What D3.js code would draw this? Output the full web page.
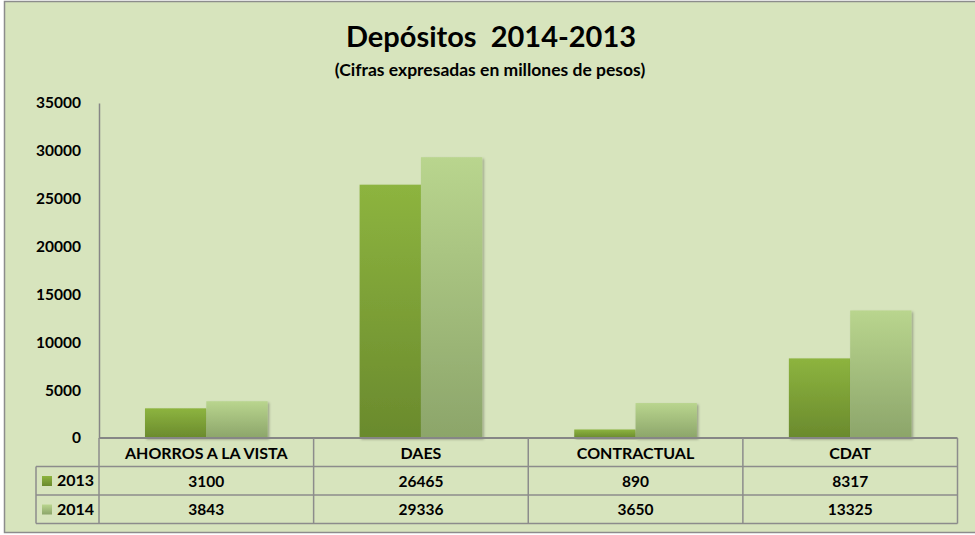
<!DOCTYPE html>
<html>
<head>
<meta charset="utf-8">
<script src="https://cdn.jsdelivr.net/npm/d3@7"></script>
<style>
  body { margin: 0; background: #fff; }
  svg text { font-family: Lato, "Open Sans", sans-serif; font-weight: bold; fill: #000; }
</style>
</head>
<body>
<div id="chart"></div>
<script>
// data
const categories = ["AHORROS A LA VISTA", "DAES", "CONTRACTUAL", "CDAT"];
const seriesNames = ["2013", "2014"];
const values2013 = [3100, 26465, 890, 8317];
const values2014 = [3843, 29336, 3650, 13325];
const yTicks = [0, 5000, 10000, 15000, 20000, 25000, 30000, 35000];

const seriesValues = { "2013": values2013, "2014": values2014 };

const width = 975, height = 535;
const margin = {top: 103, right: 17.5, bottom: 97, left: 99};
const rowH = 28.5;

const svg = d3.select("#chart")
    .append("svg")
    .attr("width", width)
    .attr("height", height);

const defs = svg.append("defs");

// gradients for the two series
const grads = {
    "2013": ["#8db43f", "#6a8a2d"],
    "2014": ["#b9d58e", "#8ca56a"]
};
seriesNames.forEach(s => {
    const g = defs.append("linearGradient")
        .attr("id", "g" + s)
        .attr("x1", 0).attr("y1", 0).attr("x2", 0).attr("y2", 1);
    g.append("stop").attr("offset", "0%").attr("stop-color", grads[s][0]);
    g.append("stop").attr("offset", "100%").attr("stop-color", grads[s][1]);
});

const shadow = defs.append("filter").attr("id", "shadow")
    .attr("x", "-10%").attr("y", "-10%").attr("width", "130%").attr("height", "130%");
shadow.append("feDropShadow")
    .attr("dx", 1.5).attr("dy", 1.5).attr("stdDeviation", 1.2)
    .attr("flood-color", "#000").attr("flood-opacity", 0.3);

// background + border
svg.append("rect")
    .attr("x", 4.5).attr("y", 1.5)
    .attr("width", width + 5).attr("height", 531)
    .attr("fill", "#d7e4bd")
    .attr("stroke", "#8c8c8c")
    .attr("stroke-width", 1.5);

// title
svg.append("text")
    .attr("x", 491).attr("y", 47)
    .attr("text-anchor", "middle")
    .style("font-size", "29px")
    .style("white-space", "pre")
    .text("Depósitos  2014-2013");

svg.append("text")
    .attr("x", 490).attr("y", 76)
    .attr("text-anchor", "middle")
    .style("font-size", "17.5px")
    .text("(Cifras expresadas en millones de pesos)");

// scales
const x0 = d3.scaleBand()
    .domain(categories)
    .range([margin.left, width - margin.right])
    .padding(0);

const x1 = d3.scaleBand()
    .domain(seriesNames)
    .range([0, x0.bandwidth()])
    .paddingInner(0)
    .paddingOuter(0.75);

const y = d3.scaleLinear()
    .domain([0, 35000])
    .range([height - margin.bottom, margin.top]);

// y axis
const yAxis = svg.append("g")
    .attr("transform", "translate(" + margin.left + ",0)")
    .call(d3.axisLeft(y).tickValues(yTicks).tickFormat(d3.format("d")).tickSize(0).tickPadding(18));
yAxis.select(".domain").attr("stroke", "#868686").attr("stroke-width", 1.5);
yAxis.selectAll("text")
    .style("font-size", "15.5px")
    .attr("font-family", null);

// bars
const groups = svg.selectAll("g.cat")
    .data(categories)
    .enter()
    .append("g")
    .attr("class", "cat")
    .attr("transform", d => "translate(" + x0(d) + ",0)");

groups.selectAll("rect")
    .data((d, i) => seriesNames.map(s => ({series: s, value: seriesValues[s][i]})))
    .enter()
    .append("rect")
    .attr("x", d => x1(d.series))
    .attr("y", d => y(d.value))
    .attr("width", x1.bandwidth())
    .attr("height", d => y(0) - y(d.value))
    .attr("fill", d => "url(#g" + d.series + ")")
    .attr("filter", "url(#shadow)");

// data table
const tableTop = y(0);
const tableLeft = 36;
const right = width - margin.right;
const table = svg.append("g").attr("stroke", "#8c8c8c").attr("stroke-width", 1.5);

// horizontal lines
table.append("line")
    .attr("x1", margin.left).attr("x2", right)
    .attr("y1", tableTop).attr("y2", tableTop)
    .attr("stroke", "#868686").attr("stroke-width", 2);
[1, 2, 3].forEach(r => {
    table.append("line")
        .attr("x1", tableLeft).attr("x2", right)
        .attr("y1", tableTop + r * rowH).attr("y2", tableTop + r * rowH);
});
// vertical lines
categories.concat(["end"]).forEach(c => {
    const xx = c === "end" ? right : x0(c);
    table.append("line")
        .attr("x1", xx).attr("x2", xx)
        .attr("y1", tableTop).attr("y2", tableTop + 3 * rowH);
});
table.append("line")
    .attr("x1", tableLeft).attr("x2", tableLeft)
    .attr("y1", tableTop + rowH).attr("y2", tableTop + 3 * rowH);

// header labels
svg.selectAll("text.cat")
    .data(categories)
    .enter()
    .append("text")
    .attr("class", "cat")
    .attr("x", d => x0(d) + x0.bandwidth() / 2)
    .attr("y", tableTop + 20.5)
    .attr("text-anchor", "middle")
    .style("font-size", "16px")
    .text(d => d);

// rows
seriesNames.forEach((s, r) => {
    const rowY = tableTop + (r + 1) * rowH;
    svg.append("rect")
        .attr("x", 42).attr("y", rowY + 9.5)
        .attr("width", 10).attr("height", 10)
        .attr("fill", "url(#g" + s + ")");
    svg.append("text")
        .attr("x", 57).attr("y", rowY + 19.5)
        .style("font-size", "16px")
        .text(s);
    svg.selectAll("text.v" + s)
        .data(seriesValues[s])
        .enter()
        .append("text")
        .attr("class", "v" + s)
        .attr("x", (d, i) => x0(categories[i]) + x0.bandwidth() / 2)
        .attr("y", rowY + 20)
        .attr("text-anchor", "middle")
        .style("font-size", "15.5px")
        .text(d => d);
});
</script>
</body>
</html>
